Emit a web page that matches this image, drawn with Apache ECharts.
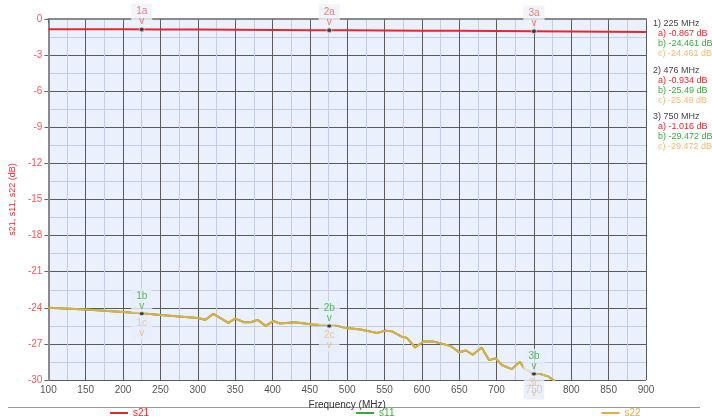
<!DOCTYPE html>
<html><head><meta charset="utf-8">
<script src="https://cdn.jsdelivr.net/npm/echarts@6/dist/echarts.min.js"></script>
<style>html,body{margin:0;padding:0;background:#fff}#c{width:712px;height:416px}</style>
</head><body><div id="c"></div>
<script>
const s21Freq = [100,150,200,250,300,350,400,450,500,550,600,650,700,750,800,850,900];
const s21Vals = [-0.85,-0.855,-0.86,-0.87,-0.88,-0.895,-0.91,-0.925,-0.94,-0.955,-0.97,-0.985,-1.0,-1.016,-1.035,-1.055,-1.075];
const s11Freq = [100,150,200,225,250,300,310,321,341,350,362,371,380,391,401,410,430,443,456,470,476,480,496,518,540,551,560,573,580,591,602,615,628,639,650,659,668,680,690,699,707,720,731,738,750,758,769,776,782];
const s11Vals = [-24.0,-24.15,-24.35,-24.461,-24.6,-24.85,-25.0,-24.5,-25.25,-24.9,-25.2,-25.2,-25.0,-25.5,-25.1,-25.3,-25.2,-25.3,-25.4,-25.4,-25.49,-25.4,-25.65,-25.8,-26.1,-25.9,-25.95,-26.4,-26.5,-27.3,-26.8,-26.8,-27.0,-27.2,-27.7,-27.55,-27.9,-27.3,-28.35,-28.2,-28.75,-29.1,-28.5,-29.1,-29.472,-29.5,-29.7,-30.0,-30.4];
const s22Freq = s11Freq;
const s22Vals = s11Vals;
const markerFreq = [225,476,750];
const markerS21 = [-0.867,-0.934,-1.016];
const markerS11 = [-24.461,-25.49,-29.472];
const markerS22 = [-24.461,-25.49,-29.472];
const xTicks = {min:100,max:900,step:50};
const yTicks = {min:-30,max:0,step:3};

const RED='#e8262e', GREEN='#3aaa35', ORANGE='#e2ac45';
const chart = echarts.init(document.getElementById('c'));
const zip=(a,b)=>a.map((v,i)=>[v,b[i]]);
function markerSeries(name,vals,suffix,color,pos,bg,offY){
  return {type:'scatter',name:name,data:zip(markerFreq,vals).map((d,i)=>({value:d,idx:i+1})),
    symbol:'circle',symbolSize:5,itemStyle:{color:'#333',borderColor:'#ddd',borderWidth:1},
    z:10,clip:false,silent:true,
    label:{show:true,position:pos,distance:1,offset:[0,offY],
      formatter:p=>'{t|'+p.data.idx+suffix+'}\n{v|v}',
      backgroundColor:bg,padding:[3,5,1,5],
      rich:{t:{color:color,fontSize:10,fontFamily:'Arial',lineHeight:10,align:'center'},
            v:{color:color,fontSize:10,fontFamily:'Arial',lineHeight:10,align:'center'}}}};
}
const graphics=[{type:'line',shape:{x1:8,y1:407.5,x2:700,y2:407.5},style:{stroke:'#999',lineWidth:1}}];
const PF='9px Arial';
let y=25;
markerFreq.forEach((f,i)=>{
  graphics.push({type:'text',left:653,top:y-5.5,style:{text:(i+1)+') '+f+' MHz',fill:'#444',font:PF}});
  graphics.push({type:'text',left:658,top:y+4.5,style:{text:'a) '+markerS21[i]+' dB',fill:RED,font:PF}});
  graphics.push({type:'text',left:658,top:y+14.5,style:{text:'b) '+markerS11[i]+' dB',fill:GREEN,font:PF}});
  graphics.push({type:'text',left:658,top:y+24.5,style:{text:'c) '+markerS22[i]+' dB',fill:'#f2b872',font:PF}});
  y+=46.5;
});
chart.setOption({
  animation:false,
  grid:{left:40,right:66,top:19,bottom:36,show:true,backgroundColor:'#eaf1fc',borderWidth:0},
  xAxis:{type:'value',min:xTicks.min,max:xTicks.max,interval:xTicks.step,
    name:'Frequency (MHz)',nameLocation:'middle',nameGap:15,nameTextStyle:{color:'#333',fontSize:10,fontFamily:'Arial'},
    axisLine:{show:true,lineStyle:{color:'#8a8a8a',width:2}},axisTick:{show:true,length:4,lineStyle:{color:'#666'}},
    axisLabel:{color:'#555',fontSize:10,fontFamily:'Arial',margin:5},
    splitLine:{show:true,lineStyle:{color:'#5a5a5a',width:1}},
    minorTick:{show:false,splitNumber:2},minorSplitLine:{show:true,lineStyle:{color:'#c3cfe0',width:1}}},
  yAxis:{type:'value',min:yTicks.min,max:yTicks.max,interval:yTicks.step,
    name:'s21, s11, s22 (dB)',nameLocation:'middle',nameGap:24,nameRotate:90,nameTextStyle:{color:RED,fontSize:9,fontFamily:'Arial'},
    axisLine:{show:true,lineStyle:{color:'#8a8a8a',width:2}},axisTick:{show:true,length:4,lineStyle:{color:'#666'}},
    axisLabel:{color:'#ef5a5a',fontSize:10,fontFamily:'Arial',margin:6},
    splitLine:{show:true,lineStyle:{color:'#5a5a5a',width:1}},
    minorTick:{show:false,splitNumber:2},minorSplitLine:{show:true,lineStyle:{color:'#c3cfe0',width:1}}},
  legend:{top:408,left:110,itemGap:207,itemWidth:18,itemHeight:2,icon:'rect',padding:0,
    textStyle:{fontSize:10,fontFamily:'Arial'},
    data:[{name:'s21',textStyle:{color:RED}},{name:'s11',textStyle:{color:GREEN}},{name:'s22',textStyle:{color:ORANGE}}]},
  graphic:graphics,
  series:[
    {type:'line',name:'s21',data:zip(s21Freq,s21Vals),symbol:'none',lineStyle:{color:RED,width:2},itemStyle:{color:RED},z:3},
    {type:'line',name:'s11',data:zip(s11Freq,s11Vals),symbol:'none',lineStyle:{color:GREEN,width:2},itemStyle:{color:GREEN},z:3},
    {type:'line',name:'s22',data:zip(s22Freq,s22Vals),symbol:'none',lineStyle:{color:ORANGE,width:2},itemStyle:{color:ORANGE},z:4},
    markerSeries('mA',markerS21,'a','#ef5a5a','top','#eef2f9',2),
    markerSeries('mB',markerS11,'b',GREEN,'top','#e6eefb',3),
    markerSeries('mC',markerS22,'c','#f2b872','bottom','#e6eefb',-2)
  ]
});
</script></body></html>
